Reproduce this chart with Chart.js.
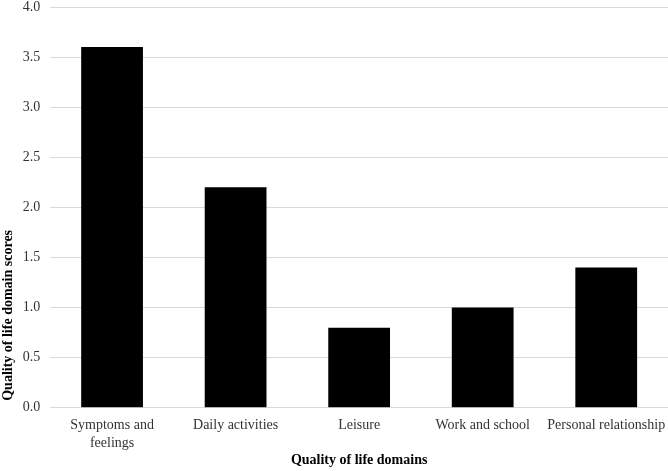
<!DOCTYPE html>
<html>
<head>
<meta charset="utf-8">
<script src="https://cdn.jsdelivr.net/npm/chart.js@4/dist/chart.umd.min.js"></script>
<style>
  html, body { margin: 0; padding: 0; background: #fff; }
  #wrap { width: 668px; height: 471px; }
</style>
</head>
<body>
<div id="wrap"><canvas id="chart" width="668" height="471"></canvas></div>
<script>
const categories = [
    ['Symptoms and', 'feelings'],
    'Daily activities',
    'Leisure',
    'Work and school',
    'Personal relationship'
];
const scores = [3.6, 2.2, 0.8, 1.0, 1.4];
const yTicks = { min: 0, max: 4.0, step: 0.5 };

const serif = "'Liberation Serif', 'Times New Roman', serif";

const ctx = document.getElementById('chart').getContext('2d');
new Chart(ctx, {
    type: 'bar',
    data: {
        labels: categories,
        datasets: [{
            label: 'Quality of life domain scores',
            data: scores,
            backgroundColor: '#000000',
            borderWidth: 0,
            categoryPercentage: 1.0,
            barPercentage: 0.5
        }]
    },
    options: {
        responsive: false,
        animation: false,
        layout: { padding: { top: 7, right: 0, left: 0, bottom: 0 } },
        plugins: {
            legend: { display: false },
            tooltip: { enabled: false }
        },
        scales: {
            x: {
                // let the plot run to the right edge like the original
                afterFit: scale => { scale.paddingRight = 0; },
                grid: { display: false, drawTicks: false },
                border: { color: '#d9d9d9', width: 1 },
                ticks: {
                    color: '#333',
                    font: { family: serif, size: 14, lineHeight: 1.3 },
                    padding: 8,
                    maxRotation: 0,
                    autoSkip: false
                },
                title: {
                    display: true,
                    text: 'Quality of life domains',
                    color: '#000',
                    font: { family: serif, size: 14, weight: 'bold' },
                    padding: { top: -8, bottom: 2 }
                }
            },
            y: {
                min: yTicks.min,
                max: yTicks.max,
                afterFit: scale => { scale.paddingTop = 0; },
                grid: {
                    color: '#d9d9d9',
                    drawTicks: true,
                    tickLength: 8,
                    tickColor: '#ffffff'
                },
                border: { display: false },
                ticks: {
                    stepSize: yTicks.step,
                    color: '#333',
                    font: { family: serif, size: 14 },
                    padding: 2,
                    callback: v => v.toFixed(1)
                },
                title: {
                    display: true,
                    text: '  Quality of life domain scores',
                    align: 'start',
                    color: '#000',
                    font: { family: serif, size: 14, weight: 'bold' },
                    padding: { top: 0, bottom: 4 }
                }
            }
        }
    }
});
</script>
</body>
</html>
